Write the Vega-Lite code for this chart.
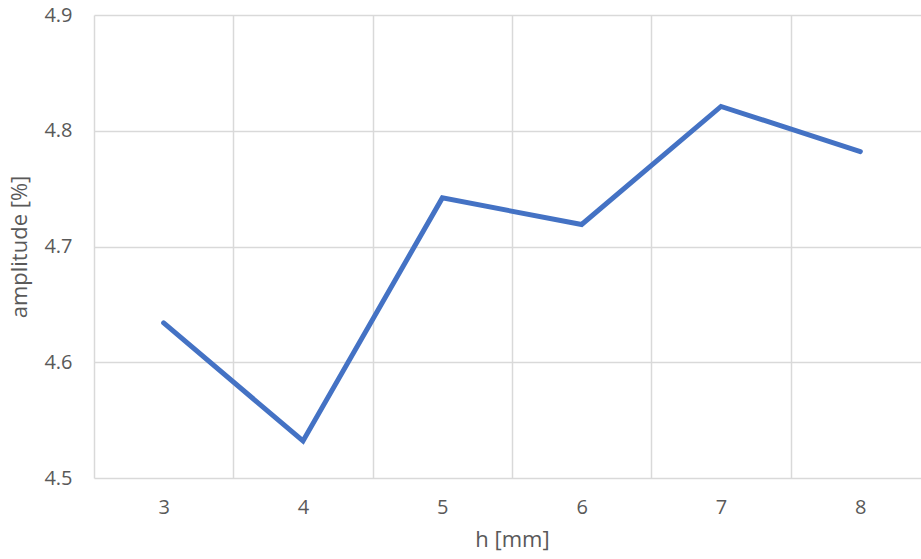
{
  "$schema": "https://vega.github.io/schema/vega-lite/v6.json",
  "autosize": "none",
  "width": 836,
  "height": 463,
  "padding": {"left": 94, "top": 15, "right": 0, "bottom": 81},
  "background": "white",
  "config": {
    "view": {"stroke": null},
    "font": "Open Sans",
    "axis": {
      "labelFont": "Open Sans",
      "titleFont": "Open Sans",
      "labelColor": "#595959",
      "titleColor": "#595959",
      "labelFontSize": 20,
      "titleFontSize": 22,
      "titleFontWeight": "normal",
      "gridColor": "#D9D9D9",
      "gridWidth": 1.5,
      "ticks": false,
      "domain": false
    }
  },
  "data": {
    "values": [
      {"h": 3, "amplitude": 4.634},
      {"h": 4, "amplitude": 4.532},
      {"h": 5, "amplitude": 4.742},
      {"h": 6, "amplitude": 4.719},
      {"h": 7, "amplitude": 4.821},
      {"h": 8, "amplitude": 4.782}
    ]
  },
  "mark": {"type": "line", "color": "#4472C4", "strokeWidth": 5, "strokeCap": "round", "strokeJoin": "miter"},
  "encoding": {
    "x": {
      "field": "h",
      "type": "ordinal",
      "scale": {"paddingInner": 0, "paddingOuter": 0},
      "axis": {
        "title": "h [mm]",
        "labelAngle": 0,
        "grid": true,
        "tickBand": "extent",
        "labelPadding": 19,
        "titlePadding": 12
      }
    },
    "y": {
      "field": "amplitude",
      "type": "quantitative",
      "scale": {"domain": [4.5, 4.9], "nice": false, "zero": false},
      "axis": {
        "title": "amplitude [%]",
        "values": [4.5, 4.6, 4.7, 4.8, 4.9],
        "format": ".1f",
        "grid": true,
        "labelPadding": 22,
        "titlePadding": 12
      }
    }
  }
}
